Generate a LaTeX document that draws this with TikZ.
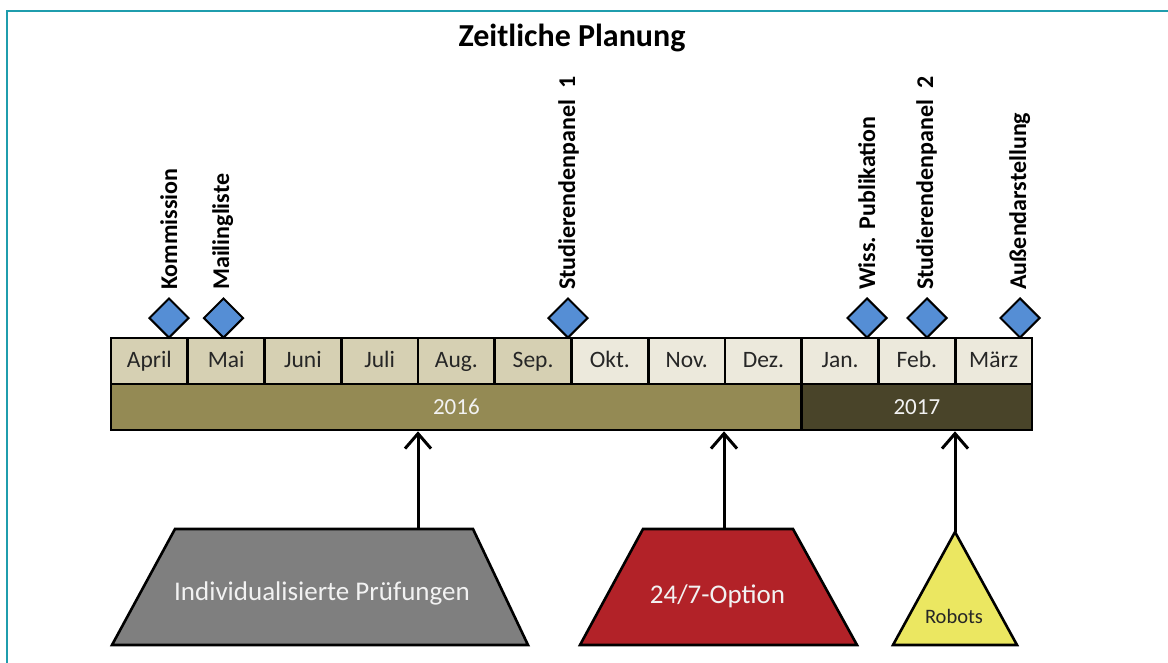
\documentclass[tikz,border=0pt]{standalone}
\usepackage{fontspec}
\setmainfont{Carlito}
\usetikzlibrary{shapes.geometric,arrows.meta}
\definecolor{frameteal}{HTML}{1F9DAD}
\definecolor{monthdark}{HTML}{D6D0B3}
\definecolor{monthlight}{HTML}{ECE9DC}
\definecolor{yearA}{HTML}{948A54}
\definecolor{yearB}{HTML}{494429}
\definecolor{txtdark}{HTML}{262626}
\definecolor{txtlight}{HTML}{F2F2F2}
\definecolor{msblue}{HTML}{558ED5}
\definecolor{grayfill}{HTML}{7F7F7F}
\definecolor{redfill}{HTML}{B22228}
\definecolor{yellowfill}{HTML}{EBE761}
\begin{document}
\begin{tikzpicture}[x=1pt,y=-1pt,
  month/.style={draw=black,line width=2.6pt,minimum width=76.75pt,minimum height=46pt,inner sep=0pt,text height=16.5pt,text depth=3.5pt,font=\fontsize{23.5}{25}\selectfont,text=txtdark},
  year/.style={draw=black,line width=2.6pt,minimum height=46pt,inner sep=0pt,text height=17pt,text depth=3pt,font=\fontsize{23}{25}\selectfont,text=txtlight},
  milestone/.style={diamond,draw=black,line width=2pt,fill=msblue,minimum width=40pt,minimum height=40pt,inner sep=0pt},
  mlabel/.style={rotate=90,anchor=base west,inner sep=0pt,font=\bfseries\fontsize{24}{26}\selectfont,text=black},
  shapeline/.style={draw=black,line width=2.6pt,line join=miter},
  bigtxt/.style={inner sep=0pt,font=\fontsize{27}{29}\selectfont,text=txtlight},
  arr/.style={line width=3pt,-{Straight Barb[length=15pt,width=26pt,line width=3pt]}}
]
\useasboundingbox (0,0) rectangle (1168,662);
% frame
\draw[frameteal,line width=2pt] (1170,11) -- (7,11) -- (7,664);
% title
\node[inner sep=0pt,font=\bfseries\fontsize{32}{34}\selectfont] (title) at (572,38) {Zeitliche Planung};
% years
\node[year,fill=yearA,minimum width=690.75pt] (y16) at (456.375,407) {2016};
\node[year,fill=yearB,minimum width=230.25pt] (y17) at (916.875,407) {2017};
% months
\node[month,fill=monthdark]  (m1)  at (149.375,361) {April};
\node[month,fill=monthdark]  (m2)  at (226.125,361) {Mai};
\node[month,fill=monthdark]  (m3)  at (302.875,361) {Juni};
\node[month,fill=monthdark]  (m4)  at (379.625,361) {Juli};
\node[month,fill=monthdark]  (m5)  at (456.375,361) {Aug.};
\node[month,fill=monthdark]  (m6)  at (533.125,361) {Sep.};
\node[month,fill=monthlight] (m7)  at (609.875,361) {Okt.};
\node[month,fill=monthlight] (m8)  at (686.625,361) {Nov.};
\node[month,fill=monthlight] (m9)  at (763.375,361) {Dez.};
\node[month,fill=monthlight] (m10) at (840.125,361) {Jan.};
\node[month,fill=monthlight] (m11) at (916.875,361) {Feb.};
\node[month,fill=monthlight] (m12) at (993.625,361) {März};
% milestones
\node[milestone] (d1) at (169,318) {};
\node[milestone] (d2) at (223.5,318) {};
\node[milestone] (d3) at (568,318) {};
\node[milestone] (d4) at (867,318) {};
\node[milestone] (d5) at (927,318) {};
\node[milestone] (d6) at (1020,318) {};
\node[mlabel] (l1) at (177,290) {Kommission};
\node[mlabel] (l2) at (229,290) {Mailingliste};
\node[mlabel] (l3) at (575,290) {Studierendenpanel\ \ 1};
\node[mlabel] (l4) at (875,290) {Wiss. Publikation};
\node[mlabel] (l5) at (933,290) {Studierendenpanel\ \ 2};
\node[mlabel] (l6) at (1026,290) {Außendarstellung};
% work packages
\path[shapeline,fill=grayfill] (112,645) -- (175,529) -- (473,529) -- (528,645) -- cycle;
\node[bigtxt] (wp1) at (322,593) {Individualisierte Prüfungen};
\path[shapeline,fill=redfill] (580,645) -- (643,529) -- (793,529) -- (857,645) -- cycle;
\node[bigtxt] (wp2) at (717.5,596) {24/7-Option};
\path[shapeline,fill=yellowfill] (893,645) -- (955,532) -- (1017,645) -- cycle;
\node[inner sep=0pt,font=\fontsize{20.5}{22}\selectfont,text=txtdark] (wp3) at (954,616) {Robots};
% connectors
\coordinate (a1) at (418,529);
\coordinate (a2) at (724,529);
\coordinate (a3) at (955,532);
\draw[arr] (a1) -- (a1 |- y16.south);
\draw[arr] (a2) -- (a2 |- y16.south);
\draw[arr] (a3) -- (a3 |- y17.south);
\end{tikzpicture}
\end{document}
